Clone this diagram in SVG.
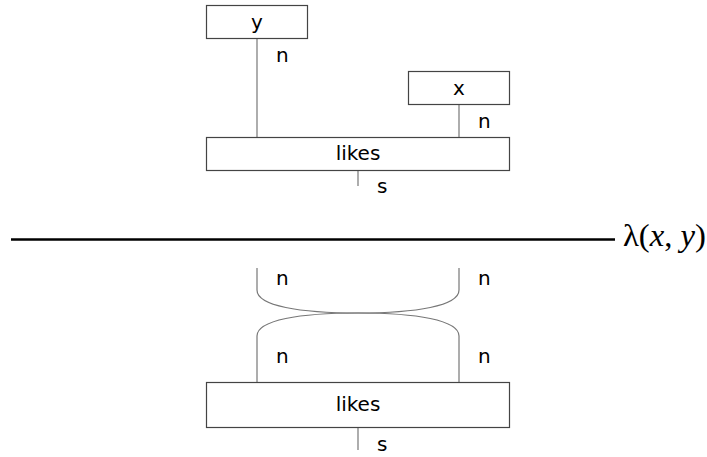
<svg xmlns="http://www.w3.org/2000/svg" width="707" height="457" viewBox="0 0 707 457">
<style>
.box{fill:#fff;stroke:#444;stroke-width:1.2}
.wire{fill:none;stroke:#777;stroke-width:1.2}
.lbl{font-family:"DejaVu Sans",sans-serif;font-size:20px;fill:#000;text-anchor:middle}
.tl{font-family:"DejaVu Sans",sans-serif;font-size:20px;fill:#000}
</style>
<rect width="707" height="457" fill="#fff"/>
<g id="connectors">
<line class="wire" x1="257" y1="38" x2="257" y2="137"/>
<line class="wire" x1="459" y1="104" x2="459" y2="137"/>
<line class="wire" x1="358" y1="170.5" x2="358" y2="186"/>
<path class="wire" d="M257,268 V290 C257,306 300,313 358,313 C416,313 459,320 459,336 V382"/>
<path class="wire" d="M459,268 V290 C459,306 416,313 358,313 C300,313 257,320 257,336 V382"/>
<line class="wire" x1="358" y1="427" x2="358" y2="450"/>
<text class="tl" x="276" y="62">n</text>
<text class="tl" x="478" y="128">n</text>
<text class="tl" x="377" y="193">s</text>
<text class="tl" x="276" y="285">n</text>
<text class="tl" x="478" y="285">n</text>
<text class="tl" x="276" y="363">n</text>
<text class="tl" x="478" y="363">n</text>
<text class="tl" x="377" y="451" font-size="19">s</text>
</g>
<g id="y">
<rect class="box" x="206.5" y="5.5" width="101" height="33"/>
<text class="lbl" x="257" y="29">y</text>
</g>
<g id="x">
<rect class="box" x="408.5" y="71.5" width="101" height="33"/>
<text class="lbl" x="459" y="95">x</text>
</g>
<g id="likes1">
<rect class="box" x="206.5" y="137.5" width="303" height="33"/>
<text class="lbl" x="358" y="160">likes</text>
</g>
<g id="rule">
<line x1="11" y1="239.5" x2="615" y2="239.5" stroke="#000" stroke-width="2.6"/>
<text x="623" y="246" font-family="Liberation Serif, serif" font-size="31" fill="#000" textLength="83" lengthAdjust="spacingAndGlyphs">λ(<tspan font-style="italic">x</tspan>, <tspan font-style="italic">y</tspan>)</text>
</g>
<g id="likes2">
<rect class="box" x="206.5" y="382.5" width="303" height="45"/>
<text class="lbl" x="358" y="411">likes</text>
</g>
</svg>
